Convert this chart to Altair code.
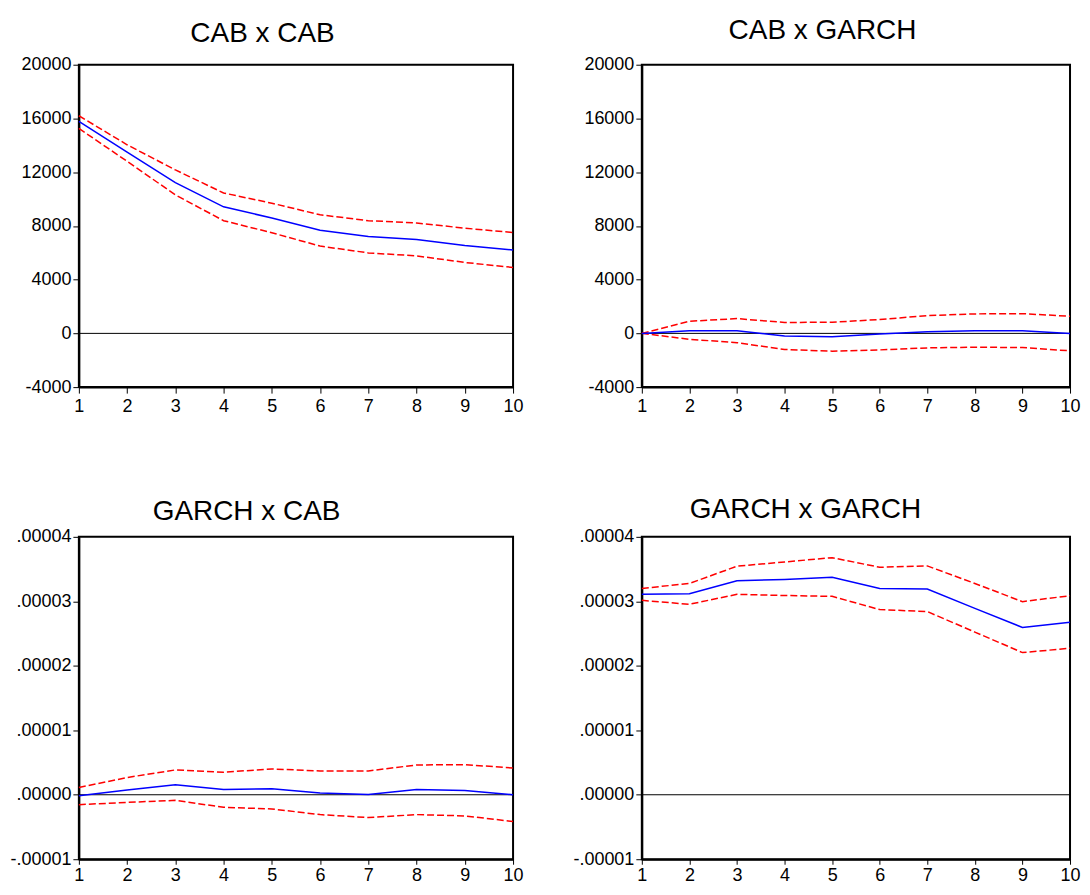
import altair as alt
import pandas as pd

periods = [1, 2, 3, 4, 5, 6, 7, 8, 9, 10]

# CAB x CAB
cab_cab_resp = [15780, 13500, 11220, 9420, 8590, 7680, 7215, 6990, 6550, 6210]
cab_cab_upper = [16200, 14040, 12170, 10450, 9690, 8830, 8390, 8220, 7830, 7510]
cab_cab_lower = [15260, 12810, 10310, 8390, 7490, 6500, 5990, 5770, 5280, 4910]

# CAB x GARCH
cab_garch_resp = [0, 200, 200, -200, -250, -50, 120, 200, 200, 0]
cab_garch_upper = [0, 900, 1100, 810, 830, 1030, 1325, 1450, 1470, 1275]
cab_garch_lower = [0, -440, -690, -1200, -1325, -1230, -1080, -1030, -1055, -1300]

# GARCH x CAB
garch_cab_resp = [-0.00000015, 0.00000072, 0.00000154, 0.00000082, 0.00000092,
                  0.00000026, 0.00000005, 0.00000082, 0.00000067, 0.0]
garch_cab_upper = [0.00000113, 0.00000267, 0.00000385, 0.00000349, 0.00000400,
                   0.00000369, 0.00000369, 0.00000462, 0.00000467, 0.00000415]
garch_cab_lower = [-0.00000154, -0.00000118, -0.00000087, -0.00000195, -0.00000220,
                   -0.00000308, -0.00000354, -0.00000308, -0.00000328, -0.00000415]

# GARCH x GARCH
garch_garch_resp = [0.00003108, 0.00003118, 0.00003318, 0.00003340, 0.00003374,
                    0.00003200, 0.00003190, 0.00002890, 0.00002595, 0.00002677]
garch_garch_upper = [0.00003200, 0.00003277, 0.00003544, 0.00003610, 0.00003677,
                     0.00003528, 0.00003549, 0.00003277, 0.00002995, 0.00003087]
garch_garch_lower = [0.00003015, 0.00002954, 0.00003108, 0.00003090, 0.00003077,
                     0.00002872, 0.00002841, 0.00002523, 0.00002205, 0.00002272]

titles = ["CAB x CAB", "CAB x GARCH", "GARCH x CAB", "GARCH x GARCH"]

cab_ticks = [-4000, 0, 4000, 8000, 12000, 16000, 20000]
garch_ticks = [-0.00001, 0.0, 0.00001, 0.00002, 0.00003, 0.00004]

FONT = "Liberation Sans"
MINUS = "\u2212"


def panel(title, title_x, title_y, w, h, resp, upper, lower, ticks, is_garch,
          xtick, xpad):
    df = pd.DataFrame({
        "period": periods * 3,
        "value": resp + upper + lower,
        "series": ["resp"] * 10 + ["upper"] * 10 + ["lower"] * 10,
    })
    zero = pd.DataFrame({"period": [1, 10], "value": [0.0, 0.0]})
    if is_garch:
        label_expr = ("replace(replace(format(datum.value, '.5f'), '0.', '.'), '"
                      + MINUS + "', '-')")
    else:
        label_expr = "replace(format(datum.value, 'd'), '" + MINUS + "', '-')"
    xenc = alt.X("period:Q",
                 scale=alt.Scale(domain=[1, 10], nice=False, zero=False),
                 axis=alt.Axis(values=periods, format="d", title=None, grid=False,
                               labelFont=FONT, labelFontSize=18, labelColor="black",
                               tickColor="black", tickSize=xtick, labelPadding=xpad,
                               domainColor="black", domainWidth=2, labelFlush=False))
    yenc = alt.Y("value:Q",
                 scale=alt.Scale(domain=[ticks[0], ticks[-1]], nice=False, zero=False),
                 axis=alt.Axis(values=ticks, labelExpr=label_expr, title=None, grid=False,
                               labelFont=FONT, labelFontSize=18, labelColor="black",
                               tickColor="black", tickSize=6, labelPadding=2,
                               domainColor="black", domainWidth=2))
    zline = alt.Chart(zero).mark_line(color="black", strokeWidth=1).encode(x=xenc, y=yenc)
    bands = alt.Chart(df).transform_filter("datum.series != 'resp'").mark_line(
        color="#ff0000", strokeWidth=1.5, strokeDash=[7, 3]
    ).encode(x=xenc, y=yenc, detail="series:N")
    main = alt.Chart(df).transform_filter("datum.series == 'resp'").mark_line(
        color="#0000ff", strokeWidth=1.5
    ).encode(x=xenc, y=yenc)
    ttl = alt.Chart(pd.DataFrame({"t": [title]})).mark_text(
        font=FONT, fontSize=28, color="black", align="center", baseline="alphabetic"
    ).encode(text="t:N", x=alt.value(title_x), y=alt.value(title_y))
    return alt.layer(zline, bands, main, ttl).properties(width=w, height=h)


WL, WR, H = 435, 429, 323

p1 = panel(titles[0], 184, -23, WL, H, cab_cab_resp, cab_cab_upper, cab_cab_lower,
           cab_ticks, False, 6, 4)
p2 = panel(titles[1], 181, -26, WR, H, cab_garch_resp, cab_garch_upper, cab_garch_lower,
           cab_ticks, False, 6, 4)
p3 = panel(titles[2], 168, -17, WL, H, garch_cab_resp, garch_cab_upper, garch_cab_lower,
           garch_ticks, True, 5, 2)
p4 = panel(titles[3], 164, -19, WR, H, garch_garch_resp, garch_garch_upper, garch_garch_lower,
           garch_ticks, True, 5, 2)

chart = alt.concat(p1, p2, p3, p4, columns=2, spacing={"row": 150, "column": 129},
                   bounds="flush", align="none").configure_view(
    stroke="black", strokeWidth=2
).properties(background="white", padding={"left": 0, "top": 7, "right": 0, "bottom": 0})

chart.save("out.html", embed_options={"renderer": "svg", "actions": False})
